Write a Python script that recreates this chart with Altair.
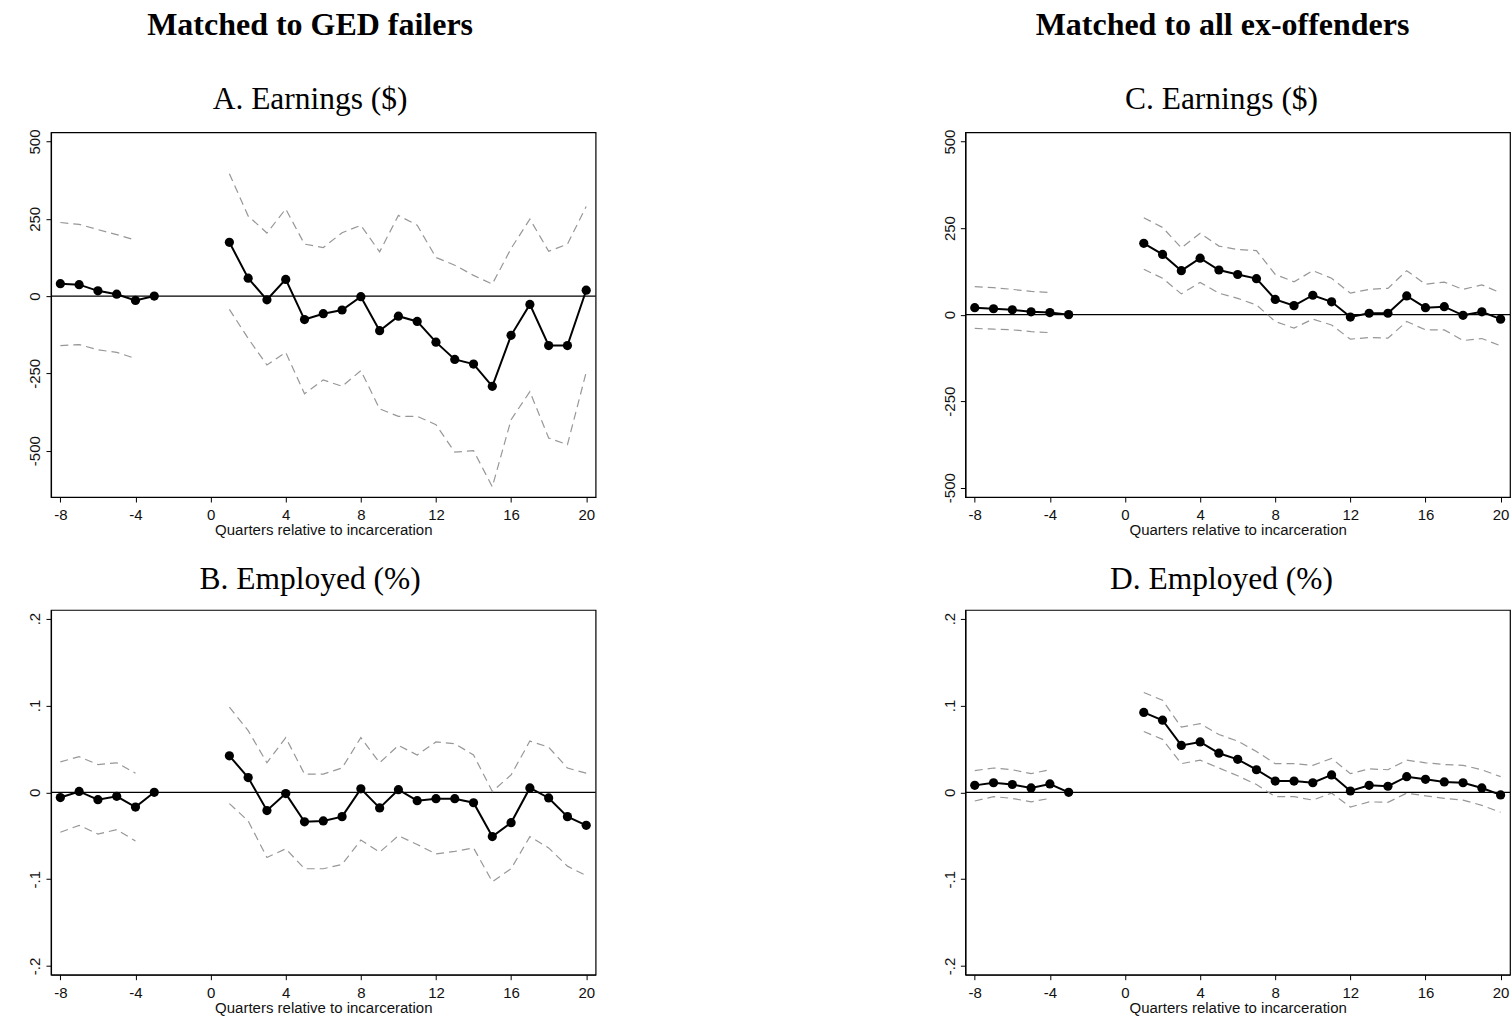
import altair as alt
import pandas as pd

# ---------------- data ----------------
Q_PRE = [-8, -7, -6, -5, -4, -3]
Q_PRE_CI = [-8, -7, -6, -5, -4]
Q_POST = [1, 2, 3, 4, 5, 6, 7, 8, 9, 10, 11, 12, 13, 14, 15, 16, 17, 18, 19, 20]
X_TICKS = [-8, -4, 0, 4, 8, 12, 16, 20]
Y_TICKS_EARN = [-500, -250, 0, 250, 500]
Y_TICKS_EMP = [-0.2, -0.1, 0, 0.1, 0.2]

# A. Earnings, matched to GED failers
A_EST_PRE = [40, 37, 17, 6, -14, 0]
A_HI_PRE = [238, 232, 215, 199, 181]
A_LO_PRE = [-160, -157, -174, -182, -202]
A_EST_POST = [174, 58, -12, 54, -76, -57, -45, -2, -112, -65, -82, -149, -205, -220, -292, -127, -27, -160, -160, 19]
A_HI_POST = [396, 259, 204, 282, 168, 157, 205, 229, 143, 261, 229, 125, 100, 67, 39, 154, 249, 145, 168, 290]
A_LO_POST = [-43, -137, -223, -182, -316, -271, -292, -241, -365, -389, -389, -416, -505, -500, -617, -400, -309, -459, -481, -246]

# B. Employed, matched to GED failers
B_EST_PRE = [-0.006, 0.001, -0.0085, -0.0046, -0.017, 0]
B_HI_PRE = [0.035, 0.041, 0.032, 0.034, 0.022]
B_LO_PRE = [-0.046, -0.038, -0.048, -0.043, -0.056]
B_EST_POST = [0.042, 0.017, -0.021, -0.0015, -0.034, -0.033, -0.028, 0.004, -0.018, 0.003, -0.0096, -0.0073, -0.0073, -0.012, -0.051, -0.035, 0.005, -0.0065, -0.028, -0.038]
B_HI_POST = [0.098, 0.071, 0.034, 0.063, 0.021, 0.021, 0.028, 0.063, 0.034, 0.054, 0.043, 0.058, 0.056, 0.043, 0.001, 0.020, 0.059, 0.052, 0.028, 0.022]
B_LO_POST = [-0.013, -0.033, -0.075, -0.065, -0.088, -0.088, -0.083, -0.055, -0.069, -0.050, -0.060, -0.071, -0.068, -0.064, -0.103, -0.088, -0.051, -0.064, -0.085, -0.096]

# C. Earnings, matched to all ex-offenders
C_EST_PRE = [20, 17, 14, 8, 6, 0]
C_HI_PRE = [81, 78, 73, 67, 64]
C_LO_PRE = [-40, -42, -44, -49, -52]
C_EST_POST = [206, 174, 127, 163, 129, 116, 104, 44, 26, 56, 37, -7, 4, 4, 54, 20, 23, -2, 8, -13]
C_HI_POST = [280, 252, 193, 235, 198, 188, 185, 116, 95, 127, 105, 62, 73, 76, 127, 88, 94, 73, 86, 63]
C_LO_POST = [131, 105, 60, 93, 62, 47, 28, -20, -39, -13, -30, -71, -66, -68, -20, -44, -44, -75, -69, -90]

# D. Employed, matched to all ex-offenders
D_EST_PRE = [0.008, 0.011, 0.009, 0.005, 0.0096, 0]
D_HI_PRE = [0.025, 0.028, 0.026, 0.0215, 0.026]
D_LO_PRE = [-0.010, -0.005, -0.007, -0.011, -0.007]
D_EST_POST = [0.092, 0.083, 0.054, 0.058, 0.045, 0.038, 0.026, 0.013, 0.013, 0.011, 0.020, 0.0015, 0.008, 0.007, 0.018, 0.015, 0.012, 0.011, 0.005, -0.003]
D_HI_POST = [0.115, 0.106, 0.075, 0.079, 0.0665, 0.059, 0.047, 0.033, 0.033, 0.031, 0.039, 0.0215, 0.027, 0.026, 0.037, 0.034, 0.032, 0.031, 0.026, 0.018]
D_LO_POST = [0.070, 0.061, 0.033, 0.037, 0.028, 0.019, 0.009, -0.005, -0.005, -0.009, -0.001, -0.017, -0.011, -0.0115, -0.001, -0.004, -0.007, -0.009, -0.015, -0.023]

SERIF = "Liberation Serif"
SANS = "Liberation Sans"
W, H = 545, 365


def long_df(est_pre, hi_pre, lo_pre, est_post, hi_post, lo_post):
    rows = []
    for q, v in zip(Q_PRE, est_pre):
        rows.append({"q": q, "v": v, "kind": "est", "grp": "est_pre"})
    for q, v in zip(Q_POST, est_post):
        rows.append({"q": q, "v": v, "kind": "est", "grp": "est_post"})
    for name, pre, post in (("hi", hi_pre, hi_post), ("lo", lo_pre, lo_post)):
        for q, v in zip(Q_PRE_CI, pre):
            rows.append({"q": q, "v": v, "kind": "ci", "grp": name + "_pre"})
        for q, v in zip(Q_POST, post):
            rows.append({"q": q, "v": v, "kind": "ci", "grp": name + "_post"})
    return pd.DataFrame(rows)


def panel(df, title, ydomain, yticks, ylabel_expr, title_dx):
    x = alt.X("q:Q",
              scale=alt.Scale(domain=[-8.5, 20.5], nice=False, zero=False),
              axis=alt.Axis(values=X_TICKS, labelExpr="toString(datum.value)",
                            title="Quarters relative to incarceration",
                            labelPadding=6, titlePadding=0))
    y = alt.Y("v:Q",
              scale=alt.Scale(domain=ydomain, nice=False, zero=False),
              axis=alt.Axis(values=yticks, labelExpr=ylabel_expr, title=None,
                            labelAngle=270, labelAlign="center", labelBaseline="bottom",
                            labelPadding=3))
    base = alt.Chart(df)
    ci = base.transform_filter(alt.datum.kind == "ci").mark_line(
        color="#979797", strokeWidth=1.2, strokeDash=[8, 5]
    ).encode(x=x, y=y, detail="grp:N")
    est = base.transform_filter(alt.datum.kind == "est").mark_line(
        color="black", strokeWidth=2
    ).encode(x=x, y=y, detail="grp:N")
    pts = base.transform_filter(alt.datum.kind == "est").mark_circle(
        color="black", opacity=1, size=85
    ).encode(x=x, y=y)
    zero = alt.Chart(pd.DataFrame({"z": [0]})).mark_rule(
        color="black", strokeWidth=1.3
    ).encode(y=alt.Y("z:Q", scale=alt.Scale(domain=ydomain, nice=False, zero=False)))
    return alt.layer(zero, ci, est, pts).properties(
        width=W, height=H,
        title=alt.Title(title, font=SERIF, fontSize=31.5, fontWeight="normal",
                        anchor="middle", frame="bounds", offset=14, color="black",
                        dx=title_dx),
    )


EARN_LABEL = "toString(datum.value)"
EMP_LABEL = ("datum.value == 0 ? '0' : (datum.value < 0 ? '-.' : '.') + "
             "toString(round(abs(datum.value) * 10))")

pA = panel(long_df(A_EST_PRE, A_HI_PRE, A_LO_PRE, A_EST_POST, A_HI_POST, A_LO_POST),
           "A. Earnings ($)", [-650, 530], Y_TICKS_EARN, EARN_LABEL, -2)
pB = panel(long_df(B_EST_PRE, B_HI_PRE, B_LO_PRE, B_EST_POST, B_HI_POST, B_LO_POST),
           "B. Employed (%)", [-0.21, 0.21], Y_TICKS_EMP, EMP_LABEL, -2)
pC = panel(long_df(C_EST_PRE, C_HI_PRE, C_LO_PRE, C_EST_POST, C_HI_POST, C_LO_POST),
           "C. Earnings ($)", [-527, 527], Y_TICKS_EARN, EARN_LABEL, -5)
pD = panel(long_df(D_EST_PRE, D_HI_PRE, D_LO_PRE, D_EST_POST, D_HI_POST, D_LO_POST),
           "D. Employed (%)", [-0.21, 0.21], Y_TICKS_EMP, EMP_LABEL, -5)


def col_title(text, dx):
    return alt.Title(text, font=SERIF, fontSize=32, fontWeight="bold",
                     anchor="middle", offset=41, color="black", dx=dx)


left = alt.vconcat(pA, pB, spacing=24, title=col_title("Matched to GED failers", -2))
right = alt.vconcat(pC, pD, spacing=24, title=col_title("Matched to all ex-offenders", -4))

chart = alt.hconcat(left, right, spacing=344).properties(
    padding={"left": 27, "top": 8, "right": 0, "bottom": 0},
    background="white",
).configure_view(
    stroke="black", strokeWidth=1.2
).configure_axis(
    grid=False, domainColor="black", domainWidth=1.2, tickColor="black", tickSize=5,
    tickWidth=1, labelFont=SANS, labelFontSize=15, labelColor="#111",
    titleFont=SANS, titleFontSize=15, titleFontWeight="normal", titleColor="#111",
)

chart.save("out.html", embed_options={"renderer": "svg", "actions": False})
